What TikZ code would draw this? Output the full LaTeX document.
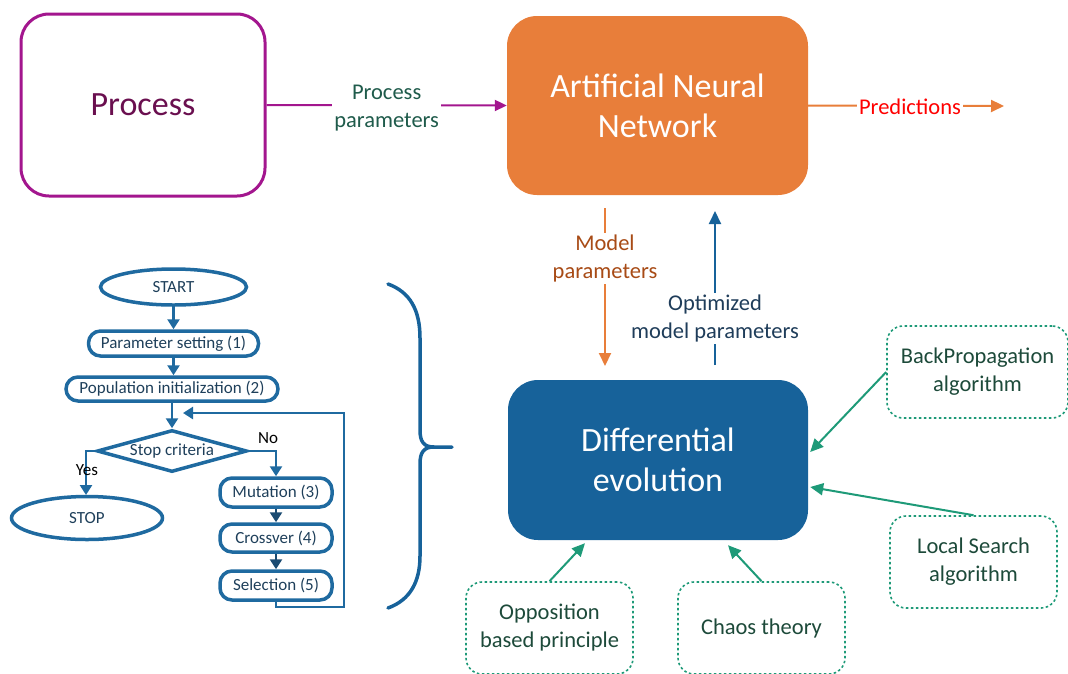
\documentclass[tikz,border=0pt]{standalone}
\usepackage{fontspec}
\setmainfont{Carlito}
\usetikzlibrary{arrows.meta,shapes.geometric,calc}
\definecolor{procpurple}{HTML}{A3168E}
\definecolor{proctext}{HTML}{6A0F4F}
\definecolor{annorange}{HTML}{E87E3A}
\definecolor{deblue}{HTML}{17629A}
\definecolor{labgreen}{HTML}{1F5B4B}
\definecolor{modelbrown}{HTML}{A84B16}
\definecolor{optnavy}{HTML}{1F3D5A}
\definecolor{teal}{HTML}{1E9A78}
\definecolor{boxtext}{HTML}{1D4A3A}
\definecolor{fcblue}{HTML}{1F6AA0}
\definecolor{fcdark}{HTML}{1B4B72}
\definecolor{fctext}{HTML}{1E3F5A}
\tikzset{
  bigfont/.style={font=\fontsize{34}{40}\selectfont},
  labfont/.style={font=\fontsize{22.5}{28}\selectfont},
  fcfont/.style={font=\fontsize{17}{20}\selectfont},
  dotbox/.style={draw=teal, line width=1.6pt, dash pattern=on 2.5pt off 2.5pt, rounded corners=16pt,
     minimum width=167pt, minimum height=92pt, align=center, labfont, text=boxtext},
  greenarrow/.style={draw=teal, line width=2pt, -{Triangle[length=13pt,width=12pt]}},
  fcbox/.style={draw=fcblue, line width=3.5pt, rounded corners=12pt, fcfont, text=fctext, inner sep=0pt},
  fcell/.style={draw=fcblue, line width=3.5pt, ellipse, fcfont, text=fctext, inner sep=0pt},
  fcarrow/.style={draw=fcblue, line width=2.5pt, -{Triangle[length=10pt,width=12pt]}},
  fcdarrow/.style={draw=fcdark, line width=2.5pt, -{Triangle[length=10pt,width=12pt]}},
}
\begin{document}
\begin{tikzpicture}[x=1pt,y=-1pt]
\useasboundingbox (0,0) rectangle (1068,673);

% main boxes
\node[draw=procpurple, line width=3pt, rounded corners=28pt, minimum width=244pt, minimum height=182pt,
      bigfont, text=proctext] (proc) at (143,105) {Process};
\node[fill=annorange, rounded corners=30pt, minimum width=301pt, minimum height=179pt,
      bigfont, text=white, align=center] (ann) at (657.5,105.5) {Artificial Neural\\Network};
\node[fill=deblue, rounded corners=30pt, minimum width=300pt, minimum height=160pt,
      bigfont, text=white, align=center] (de) at (658,460) {Differential\\evolution};

% process -> ANN
\draw[procpurple, line width=2pt, -{Triangle[length=12pt,width=11pt]}] (proc.east) --
  node[fill=white, labfont, text=labgreen, align=center, inner sep=2pt, yshift=-2.5pt] {Process\\parameters} (ann.west);

% predictions
\coordinate (predend) at (1004,106);
\draw[annorange, line width=2pt, -{Triangle[length=13pt,width=12pt]}] (ann.east) --
  node[fill=white, labfont, text=red, inner sep=2pt, pos=0.52, yshift=-1pt] {Predictions} (predend);

% model parameters
\coordinate (mpa) at (605,208);
\coordinate (mpb) at (605,366);
\draw[annorange, line width=2pt, -{Triangle[length=13pt,width=12pt]}] (mpa) --
  node[fill=white, labfont, text=modelbrown, align=center, pos=0.31, inner sep=2pt, yshift=-1.5pt] {Model\\parameters} (mpb);

% optimized model parameters
\coordinate (opa) at (715,365);
\coordinate (opb) at (715,211);
\draw[deblue, line width=2pt, -{Triangle[length=13pt,width=12pt]}] (opa) --
  node[fill=white, labfont, text=optnavy, align=center, pos=0.32, inner sep=2pt, yshift=-2.5pt] {Optimized\\model parameters} (opb);

% dotted boxes
\node[dotbox, minimum width=181pt] (bp) at (977.5,372) {BackPropagation\\algorithm};
\node[dotbox] (ls) at (973.5,562) {Local Search\\algorithm};
\node[dotbox] (opp) at (549.5,628) {Opposition\\based principle};
\node[dotbox] (chaos) at (761.5,628) {Chaos theory};

\draw[greenarrow] (bp.west) -- ($(de.east)+(2,-8)$);
\draw[greenarrow] (ls.north) -- ($(de.east)+(2,27)$);
\draw[greenarrow] (opp.north) -- ($(de.south)+(-73,3)$);
\draw[greenarrow] (chaos.north) -- ($(de.south)+(70,5)$);

% brace
\draw[deblue, line width=3.5pt, line cap=round]
  (388,284) .. controls (410,292) and (420,310) .. (420,338) -- (420,430)
  .. controls (420,442) and (424,447) .. (434,447) -- (452,447);
\draw[deblue, line width=3.5pt, line cap=round]
  (388,608) .. controls (410,600) and (420,582) .. (420,556) -- (420,464)
  .. controls (420,452) and (424,447) .. (434,447);

% flowchart
\node[fcell, minimum width=146pt, minimum height=36pt] (start) at (173.5,287) {START};
\node[fcbox, minimum width=170pt, minimum height=25pt] (ps) at (173.5,343.5) {Parameter setting (1)};
\node[fcbox, minimum width=212pt, minimum height=24pt] (pi) at (172,389) {Population initialization (2)};
\node[draw=fcblue, line width=3.5pt, diamond, aspect=3.5, inner sep=0pt, minimum width=150pt, minimum height=42pt,
      fcfont, text=fctext] (stop) at (172,451) {Stop criteria};
\node[fcell, minimum width=151pt, minimum height=43pt] (stopn) at (87,518) {STOP};
\node[fcbox, minimum width=112pt, minimum height=29pt] (mut) at (276,492.5) {Mutation (3)};
\node[fcbox, minimum width=112pt, minimum height=28pt] (cro) at (276,538) {Crossver (4)};
\node[fcbox, minimum width=112pt, minimum height=29pt] (sel) at (276,585.5) {Selection (5)};

\draw[fcarrow] (start.south) -- (ps.north);
\draw[fcarrow] (ps.south) -- (ps.south |- pi.north);
\draw[fcarrow] (pi.south) -- (stop.north);
\coordinate (loopin) at (183,413);
\coordinate (yesend) at (86,495);
\draw[fcarrow] (sel.south) -- (276,607) -- (344,607) -- (344,413) -- (loopin);
\draw[fcarrow] (stop.west) -- (86,451) -- (yesend);
\draw[fcarrow] (stop.east) -- (276,451) -- (mut.north);
\draw[fcdarrow] (mut.south) -- (cro.north);
\draw[fcdarrow] (cro.south) -- (sel.north);
\node[fcfont, text=black] (yes) at (87,470) {Yes};
\node[fcfont, text=black] (no) at (268,438) {No};
\end{tikzpicture}
\end{document}
